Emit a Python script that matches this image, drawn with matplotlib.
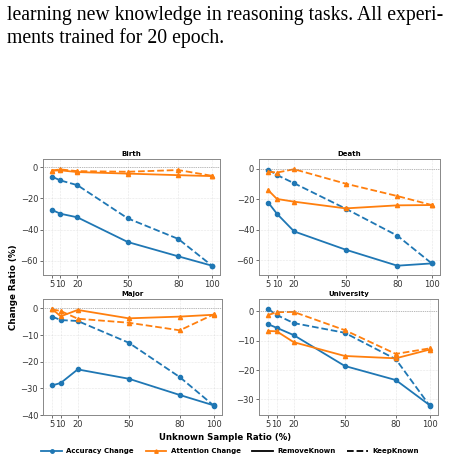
import matplotlib.pyplot as plt
from matplotlib.lines import Line2D

x = [5, 10, 20, 50, 80, 100]

# per task: accuracy / attention change, RemoveKnown (solid) and KeepKnown (dashed)
birth_acc_remove = [-27.4, -29.8, -32.1, -48.0, -57.2, -63.2]
birth_acc_keep = [-6.0, -8.4, -11.4, -32.8, -46.0, -63.2]
birth_att_remove = [-2.1, -1.9, -3.0, -4.0, -5.0, -5.6]
birth_att_keep = [-2.0, -1.3, -2.4, -2.8, -1.7, -5.4]

death_acc_remove = [-22.3, -29.6, -41.2, -53.2, -63.7, -62.2]
death_acc_keep = [-0.7, -4.2, -9.6, -26.3, -44.0, -62.2]
death_att_remove = [-14.2, -19.9, -21.7, -26.1, -24.1, -23.9]
death_att_keep = [-2.0, -2.6, -0.4, -9.9, -18.0, -23.9]

major_acc_remove = [-28.9, -28.0, -22.9, -26.4, -32.5, -36.4]
major_acc_keep = [-3.1, -4.4, -4.75, -12.9, -25.8, -36.5]
major_att_remove = [-0.25, -3.0, -0.6, -3.75, -3.1, -2.4]
major_att_keep = [-0.4, -1.0, -3.9, -5.4, -8.25, -2.25]

univ_acc_remove = [-4.4, -5.6, -8.1, -18.6, -23.4, -32.0]
univ_acc_keep = [0.8, -1.25, -4.0, -7.3, -16.3, -32.2]
univ_att_remove = [-6.7, -6.8, -10.5, -15.2, -16.0, -13.0]
univ_att_keep = [-1.25, -0.3, -0.2, -6.4, -14.5, -12.6]

titles = ['Birth', 'Death', 'Major', 'University']
data = [
    (birth_acc_remove, birth_acc_keep, birth_att_remove, birth_att_keep),
    (death_acc_remove, death_acc_keep, death_att_remove, death_att_keep),
    (major_acc_remove, major_acc_keep, major_att_remove, major_att_keep),
    (univ_acc_remove, univ_acc_keep, univ_att_remove, univ_att_keep),
]
ylims = [(-69.2, 5.4), (-69.8, 6.3), (-40, 3.5), (-35.3, 4.2)]
yticks = [[0, -20, -40, -60], [0, -20, -40, -60], [0, -10, -20, -30, -40], [0, -10, -20, -30]]

blue = '#1f77b4'
orange = '#ff7f0e'

fig = plt.figure(figsize=(4.52, 4.61), dpi=100)

# caption text above the figure
fig.text(7/452, 1 - 20/461, 'learning new knowledge in reasoning tasks. All experi-',
         family='Liberation Serif', fontsize=14.2, ha='left', va='baseline')
fig.text(7/452, 1 - 43/461, 'ments trained for 20 epoch.',
         family='Liberation Serif', fontsize=14.2, ha='left', va='baseline')

boxes = [(43, 159, 220, 275), (259, 159, 440, 275), (43, 299, 222, 415), (259, 299, 438, 415)]
W, H = 452, 461
for i, (l, t, r, b) in enumerate(boxes):
    ax = fig.add_axes([l/W, 1 - b/H, (r - l)/W, (b - t)/H])
    acc_r, acc_k, att_r, att_k = data[i]
    ax.plot(x, acc_r, color=blue, marker='o', ms=3, lw=1.3, ls='-')
    ax.plot(x, acc_k, color=blue, marker='o', ms=3, lw=1.3, ls='--')
    ax.plot(x, att_r, color=orange, marker='^', ms=3, lw=1.3, ls='-')
    ax.plot(x, att_k, color=orange, marker='^', ms=3, lw=1.3, ls='--')
    ax.axhline(0, color='gray', lw=0.5, ls=':')
    ax.set_xticks(x)
    ax.set_xlim(-0.4, 104.8)
    ax.set_ylim(*ylims[i])
    ax.set_yticks(yticks[i])
    ax.grid(True, ls=':', lw=0.4, alpha=0.6)
    ax.tick_params(labelsize=6, length=2, width=0.5, pad=1.5, colors='#333333')
    ax.set_title(titles[i], fontsize=5, fontweight='bold', pad=2)
    for s in ax.spines.values():
        s.set_linewidth(0.7)
        s.set_color('#888888')

fig.text(14/W, 1 - 287/H, 'Change Ratio (%)', rotation=90, ha='center', va='center',
         fontsize=6.3, fontweight='bold')
fig.text(225/W, 1 - 437/H, 'Unknown Sample Ratio (%)', ha='center', va='center',
         fontsize=6.2, fontweight='bold')

handles = [
    Line2D([], [], color=blue, marker='o', ms=2.5, lw=1.3),
    Line2D([], [], color=orange, marker='^', ms=2.5, lw=1.3),
    Line2D([], [], color='black', lw=1.3, ls='-'),
    Line2D([], [], color='black', lw=1.3, ls='--'),
]
labels = ['Accuracy Change', 'Attention Change', 'RemoveKnown', 'KeepKnown']
leg = fig.legend(handles, labels, loc='center', bbox_to_anchor=(230/W, 1 - 451/H), ncol=4,
                 frameon=False, prop={'size': 5, 'weight': 'bold'}, handlelength=3,
                 columnspacing=1.7, handletextpad=0.6)

fig.savefig('out.png', dpi=100)
